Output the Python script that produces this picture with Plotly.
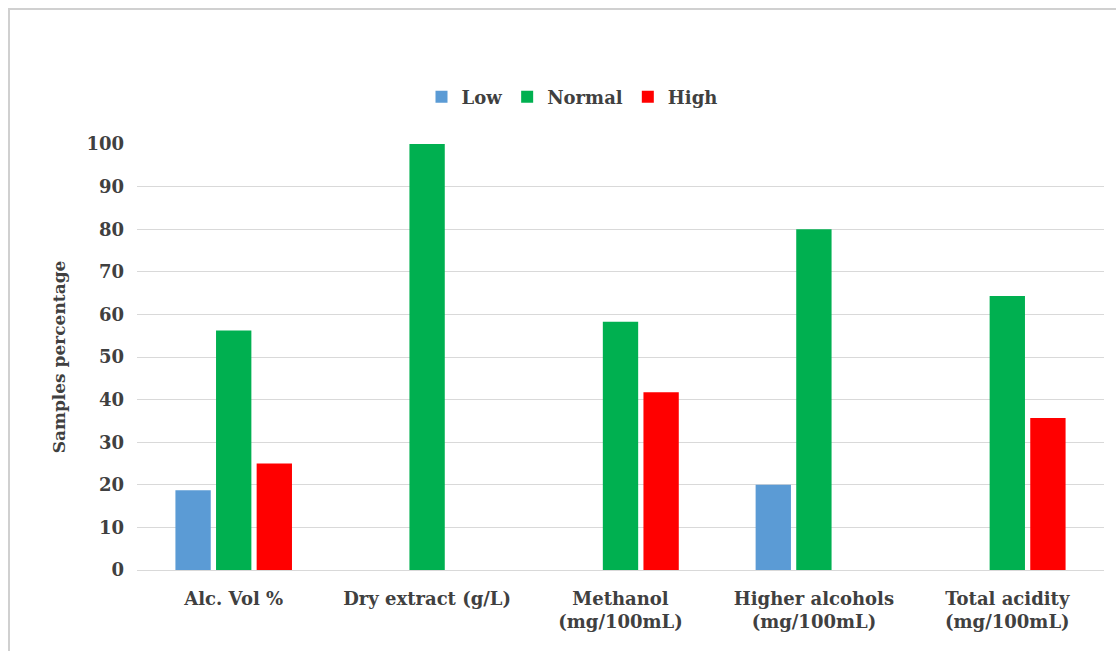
import plotly.graph_objects as go

# Parameters and share of samples (%) in each quality band
categories = [
    "Alc. Vol %",
    "Dry extract (g/L)",
    "Methanol<br>(mg/100mL)",
    "Higher alcohols<br>(mg/100mL)",
    "Total acidity<br>(mg/100mL)",
]
low = [18.75, None, None, 20, None]
normal = [56.25, 100, 58.3, 80, 64.3]
high = [25, None, 41.7, None, 35.7]

y_ticks = list(range(0, 101, 10))

W, H = 1116, 651
L, R, T, B = 137, 12, 144, 81
pw, ph = W - L - R, H - T - B

TEXT = "#404040"
FONT = "DejaVu Serif"


def px_x(x):
    return (x - L) / pw


def px_y(y):
    return (H - B - y) / ph


fig = go.Figure()
for name, vals, color in [
    ("Low", low, "#5B9BD5"),
    ("Normal", normal, "#00B050"),
    ("High", high, "#FF0000"),
]:
    fig.add_trace(go.Bar(name=name, x=categories, y=vals, marker_color=color,
                         marker_line_width=0))

fig.update_layout(
    width=W,
    height=H,
    margin=dict(l=L, r=R, t=T, b=B),
    paper_bgcolor="white",
    plot_bgcolor="white",
    barmode="group",
    bargap=0.37,
    bargroupgap=0.13,
    font=dict(family=FONT, color=TEXT, size=18),
    legend=dict(
        orientation="h",
        x=px_x(572),
        xanchor="center",
        y=px_y(97),
        yanchor="middle",
        font=dict(family=FONT, size=18, color=TEXT, weight="bold"),
        itemwidth=30,
        traceorder="normal",
    ),
    xaxis=dict(
        showgrid=False,
        showline=False,
        ticks="",
        tickfont=dict(family=FONT, size=18, color=TEXT, weight="bold"),
        ticklabelstandoff=16,
    ),
    yaxis=dict(
        range=[0, 100],
        tickvals=y_ticks,
        showgrid=True,
        gridcolor="#D9D9D9",
        gridwidth=1,
        zeroline=True,
        zerolinecolor="#D9D9D9",
        zerolinewidth=1,
        showline=False,
        ticks="",
        tickfont=dict(family=FONT, size=18, color=TEXT, weight="bold"),
        ticklabelstandoff=12,
        title=dict(
            text="Samples percentage",
            font=dict(family=FONT, size=17, color=TEXT, weight="bold"),
            standoff=16,
        ),
    ),
    shapes=[
        dict(
            type="rect",
            xref="paper",
            yref="paper",
            x0=px_x(9),
            x1=px_x(W + 10),
            y0=px_y(H + 10),
            y1=px_y(9),
            line=dict(color="#D0D0D0", width=2),
            fillcolor="rgba(0,0,0,0)",
            layer="below",
        )
    ],
)

fig.write_html("out.html")
